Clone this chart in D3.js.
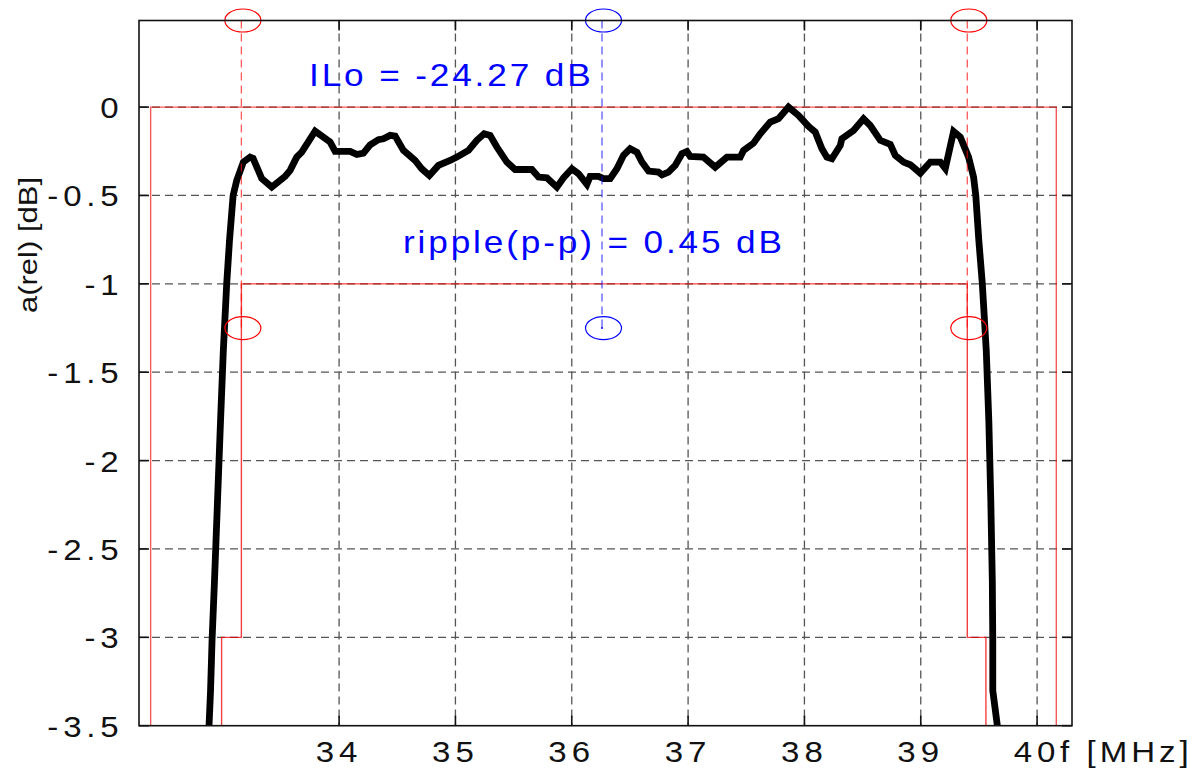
<!DOCTYPE html>
<html>
<head>
<meta charset="utf-8">
<script src="https://cdn.jsdelivr.net/npm/d3@7"></script>
<style>
  body { margin: 0; background: #fff; }
  text { font-family: "Liberation Sans", Arial, Helvetica, sans-serif; }
</style>
</head>
<body>
<script>
// measured filter response, relative attenuation
const freqMHz = [32.882, 32.895, 32.908, 32.929, 32.955, 32.981, 33.005, 33.034, 33.058, 33.089,
  33.120, 33.177, 33.235, 33.261, 33.335, 33.421, 33.536, 33.579, 33.636, 33.679,
  33.794, 33.923, 33.966, 34.095, 34.152, 34.209, 34.267, 34.338, 34.381, 34.439,
  34.482, 34.553, 34.653, 34.711, 34.776, 34.854, 34.954, 35.012, 35.112, 35.184,
  35.247, 35.298, 35.356, 35.442, 35.513, 35.657, 35.714, 35.786, 35.872, 35.929,
  36.001, 36.058, 36.130, 36.158, 36.230, 36.273, 36.330, 36.388, 36.445, 36.502,
  36.560, 36.603, 36.660, 36.745, 36.775, 36.831, 36.889, 36.947, 36.990, 37.018,
  37.132, 37.233, 37.334, 37.448, 37.476, 37.562, 37.620, 37.706, 37.777, 37.863,
  37.949, 38.035, 38.093, 38.150, 38.193, 38.236, 38.308, 38.322, 38.422, 38.508,
  38.566, 38.652, 38.738, 38.781, 38.852, 38.910, 38.996, 39.082, 39.168, 39.211,
  39.282, 39.340, 39.411, 39.454, 39.473, 39.499, 39.529, 39.563, 39.585, 39.602,
  39.615, 39.619, 39.619, 39.658];
const attenDb = [-3.499, -3.301, -3.017, -2.679, -2.226, -1.773, -1.377, -0.998, -0.754, -0.500,
  -0.415, -0.311, -0.283, -0.290, -0.404, -0.453, -0.392, -0.358, -0.283, -0.255,
  -0.136, -0.198, -0.251, -0.251, -0.268, -0.260, -0.213, -0.184, -0.179, -0.160,
  -0.164, -0.245, -0.302, -0.349, -0.387, -0.330, -0.302, -0.283, -0.245, -0.188,
  -0.151, -0.160, -0.226, -0.311, -0.353, -0.353, -0.396, -0.400, -0.453, -0.400,
  -0.349, -0.377, -0.437, -0.392, -0.392, -0.405, -0.405, -0.349, -0.273, -0.235,
  -0.255, -0.311, -0.362, -0.368, -0.383, -0.368, -0.330, -0.264, -0.251, -0.279,
  -0.283, -0.340, -0.283, -0.283, -0.245, -0.204, -0.151, -0.085, -0.066, 0,
  -0.047, -0.109, -0.141, -0.235, -0.283, -0.292, -0.217, -0.179, -0.132, -0.066,
  -0.104, -0.188, -0.211, -0.273, -0.311, -0.326, -0.374, -0.311, -0.311, -0.347,
  -0.138, -0.170, -0.283, -0.396, -0.500, -0.754, -0.998, -1.377, -1.773, -2.226,
  -2.679, -3.017, -3.301, -3.499];

// tolerance mask (red)
const outerMaskF = [32.38, 32.38, 40.165, 40.165];
const outerMaskDb = [-3.5, 0, 0, -3.5];
const innerMaskF = [32.99, 32.99, 33.16, 33.16, 39.40, 39.40, 39.56, 39.56];
const innerMaskDb = [-3.5, -3, -3, -1, -1, -3, -3, -3.5];

// band edge / centre markers
const markerF = [33.16, 36.26, 39.40];
const markerColor = ["red", "blue", "red"];
const markerLow = -1.25;

const xTicks = [34, 35, 36, 37, 38, 39, 40];
const yTicks = [0, -0.5, -1, -1.5, -2, -2.5, -3, -3.5];

const ilText = "ILo = -24.27 dB";
const rippleText = "ripple(p-p) = 0.45 dB";

const W = 1201, H = 769;
const pLeft = 139, pRight = 1072, pTop = 20.5, pBottom = 725.7;

const svg = d3.select("body").append("svg")
  .attr("width", W)
  .attr("height", H);

const x = d3.scaleLinear().domain([32.28, 40.30]).range([pLeft, pRight]);
const y = d3.scaleLinear().domain([-3.5, 0.49]).range([pBottom, pTop]);

svg.append("clipPath").attr("id", "plot")
  .append("rect")
  .attr("x", pLeft).attr("y", pTop)
  .attr("width", pRight - pLeft).attr("height", pBottom - pTop);

// grid
const grid = svg.append("g");
grid.selectAll(".vgrid")
  .data(xTicks)
  .join("line")
  .attr("x1", d => x(d)).attr("x2", d => x(d))
  .attr("y1", pTop).attr("y2", pBottom)
  .attr("stroke", "#555")
  .attr("stroke-width", 1.3)
  .attr("stroke-dasharray", "8,5");
grid.selectAll(".hgrid")
  .data(yTicks.slice(0, -1))
  .join("line")
  .attr("x1", pLeft).attr("x2", pRight)
  .attr("y1", d => y(d)).attr("y2", d => y(d))
  .attr("stroke", "#555")
  .attr("stroke-width", 1.3)
  .attr("stroke-dasharray", "8,5");

// mask
const maskLine = d3.line().x(d => x(d[0])).y(d => y(d[1]));
const plot = svg.append("g").attr("clip-path", "url(#plot)");
plot.append("path")
  .attr("d", maskLine(d3.zip(outerMaskF, outerMaskDb)))
  .attr("fill", "none")
  .attr("stroke", "#e00")
  .attr("stroke-opacity", 0.65)
  .attr("stroke-width", 1.4);
plot.append("path")
  .attr("d", maskLine(d3.zip(innerMaskF, innerMaskDb)))
  .attr("fill", "none")
  .attr("stroke", "#e00")
  .attr("stroke-opacity", 0.75)
  .attr("stroke-width", 1.4);

// markers
const markers = svg.append("g");
markers.selectAll(".mline")
  .data(markerF)
  .join("line")
  .attr("x1", d => x(d)).attr("x2", d => x(d))
  .attr("y1", pTop).attr("y2", y(markerLow))
  .attr("stroke", (d, i) => markerColor[i])
  .attr("stroke-opacity", 0.65)
  .attr("stroke-width", 1.3)
  .attr("stroke-dasharray", "8,5");
markers.selectAll(".mtop")
  .data(markerF)
  .join("ellipse")
  .attr("cx", d => x(d) + 1.5).attr("cy", pTop)
  .attr("rx", 18).attr("ry", 11.5)
  .attr("fill", "none")
  .attr("stroke", (d, i) => markerColor[i])
  .attr("stroke-width", 1.2);
markers.selectAll(".mlow")
  .data(markerF)
  .join("ellipse")
  .attr("cx", d => x(d) + 1.5).attr("cy", y(markerLow))
  .attr("rx", 18).attr("ry", 11.5)
  .attr("fill", "none")
  .attr("stroke", (d, i) => markerColor[i])
  .attr("stroke-width", 1.2);
markers.append("circle")
  .attr("cx", x(markerF[1])).attr("cy", y(markerLow))
  .attr("r", 1).attr("fill", "blue");

// response curve
plot.append("path")
  .attr("d", d3.line().x(d => x(d[0])).y(d => y(d[1]))(d3.zip(freqMHz, attenDb)))
  .attr("fill", "none")
  .attr("stroke", "#000")
  .attr("stroke-width", 6.8)
  .attr("stroke-linejoin", "miter")
  .attr("stroke-miterlimit", 3);

// frame and inward ticks
svg.append("rect")
  .attr("x", pLeft).attr("y", pTop)
  .attr("width", pRight - pLeft).attr("height", pBottom - pTop)
  .attr("fill", "none")
  .attr("stroke", "#111")
  .attr("stroke-width", 1.6);
const ticks = svg.append("g").attr("stroke", "#111").attr("stroke-width", 1.6);
xTicks.forEach(t => {
  ticks.append("line").attr("x1", x(t)).attr("x2", x(t)).attr("y1", pBottom).attr("y2", pBottom - 10);
  ticks.append("line").attr("x1", x(t)).attr("x2", x(t)).attr("y1", pTop).attr("y2", pTop + 10);
});
yTicks.forEach(t => {
  ticks.append("line").attr("x1", pLeft).attr("x2", pLeft + 10).attr("y1", y(t)).attr("y2", y(t));
  ticks.append("line").attr("x1", pRight).attr("x2", pRight - 10).attr("y1", y(t)).attr("y2", y(t));
});

// stretched text helper
const wideText = (tx, ty, str, size, anchor, color, sx, spacing, rot) => {
  svg.append("text")
    .attr("transform", `translate(${tx},${ty})` + (rot ? ` rotate(${rot})` : "") + ` scale(${sx},1)`)
    .attr("text-anchor", anchor)
    .attr("font-size", size)
    .attr("letter-spacing", spacing)
    .attr("fill", color)
    .text(str);
};

xTicks.forEach(t => {
  wideText(x(t), 762, String(t), 29.5, "middle", "#111", 1.12, 4.5);
});
yTicks.forEach(t => {
  wideText(123.5, y(t) + 11, String(t), 30, "end", "#111", 1.1, 4.4);
});
wideText(1060, 762, "f [MHz]", 29.5, "start", "#111", 1.12, 3.6);
wideText(37, 245, "a(rel) [dB]", 25, "middle", "#111", 1.24, 0, -90);

wideText(309, 86, ilText, 32, "start", "blue", 1.1, 2.6);
wideText(403, 253, rippleText, 32, "start", "blue", 1.1, 2.6);
</script>
</body>
</html>
